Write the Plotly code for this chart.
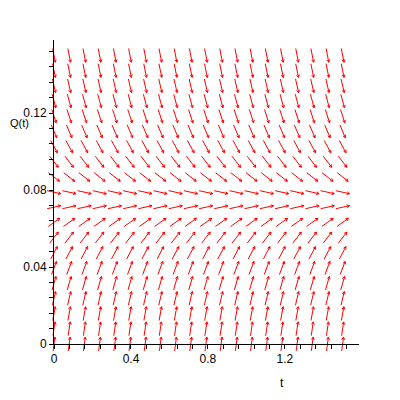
import math
import plotly.graph_objects as go

# ---- data (direction field of an autonomous ODE) ----
t_grid = [0.0, 0.0789, 0.1579, 0.2368, 0.3158, 0.3947, 0.4737, 0.5526, 0.6316, 0.7105,
          0.7895, 0.8684, 0.9474, 1.0263, 1.1053, 1.1842, 1.2632, 1.3421, 1.4211, 1.5]
q_grid = [0.0, 0.0079, 0.0158, 0.0237, 0.0316, 0.0395, 0.0474, 0.0553, 0.0632, 0.0711,
          0.0789, 0.0868, 0.0947, 0.1026, 0.1105, 0.1184, 0.1263, 0.1342, 0.1421, 0.15]
# dQ/dt at each row of the field (same for every column)
dq_dt = [0.76, 0.68, 0.56, 0.43, 0.35, 0.27, 0.19, 0.13, 0.071, 0.022,
         -0.022, -0.078, -0.13, -0.185, -0.235, -0.31, -0.375, -0.44, -0.49, -0.52]

x_tickvals = [0.0, 0.08, 0.16, 0.24, 0.32, 0.4, 0.48, 0.56, 0.64, 0.72, 0.8, 0.88, 0.96,
              1.04, 1.12, 1.2, 1.28, 1.36, 1.44, 1.52]
x_ticktext = ["0", "", "", "", "", "0.4", "", "", "", "", "0.8", "", "", "", "", "1.2",
              "", "", "", ""]
y_tickvals = [0.0, 0.008, 0.016, 0.024, 0.032, 0.04, 0.048, 0.056, 0.064, 0.072, 0.08,
              0.088, 0.096, 0.104, 0.112, 0.12, 0.128, 0.136, 0.144, 0.152]
y_ticktext = ["0", "", "", "", "", "0.04", "", "", "", "", "0.08", "", "", "", "",
              "0.12", "", "", "", ""]

X_MAX = 1.585
Y_MAX = 0.158

# ---- layout geometry (pixels, page offset of 8px body margin) ----
OFF = 8
W, H = 384, 384
ML, MR, MT, MB = 22, 12, 22, 32
PX0, PX1 = 54 - OFF, 359 - OFF      # visible axes box
PY0, PY1 = 344 - OFF, 40 - OFF
paper_w = W - ML - MR
paper_h = H - MT - MB
sx = (PX1 - PX0) / X_MAX
sy = (PY0 - PY1) / Y_MAX

xr = [(ML - PX0) / sx, (W - MR - PX0) / sx]
yr = [-(H - MB - PY0) / sy, (PY0 - MT) / sy]

L = 14.0   # arrow length in px
HL = 3.0   # head length px
HA = math.radians(28)

sx_list, sy_list = [], []
hx_list, hy_list = [], []
for q, s in zip(q_grid, dq_dt):
    ang = math.atan2(s * sy, sx)
    ux, uy = math.cos(ang), math.sin(ang)
    for t in t_grid:
        x0 = t - (L / 2) * ux / sx
        y0 = q - (L / 2) * uy / sy
        x1 = t + (L / 2) * ux / sx
        y1 = q + (L / 2) * uy / sy
        sx_list += [x0, x1, None]
        sy_list += [y0, y1, None]
        for sgn in (1, -1):
            a = ang + math.pi + sgn * HA
            bx = x1 + HL * math.cos(a) / sx
            by = y1 + HL * math.sin(a) / sy
            hx_list += [x1, bx, None]
            hy_list += [y1, by, None]

fig = go.Figure()
fig.add_trace(go.Scatter(x=sx_list, y=sy_list, mode="lines",
                         line=dict(color="#ff0000", width=1), hoverinfo="skip",
                         showlegend=False))
fig.add_trace(go.Scatter(x=hx_list, y=hy_list, mode="lines",
                         line=dict(color="#ff0000", width=1), hoverinfo="skip",
                         showlegend=False))
fig.add_trace(go.Scatter(x=[None], y=[None], xaxis="x2", yaxis="y2",
                         showlegend=False, hoverinfo="skip"))

font = dict(family="Liberation Sans, Arial, sans-serif", size=12, color="black")
label_font = dict(family="Liberation Sans, Arial, sans-serif", size=11, color="black")

fig.update_layout(
    width=W, height=H,
    margin=dict(l=ML, r=MR, t=MT, b=MB, pad=0),
    paper_bgcolor="white", plot_bgcolor="rgba(0,0,0,0)",
    showlegend=False,
    font=font,
    xaxis=dict(domain=[0, 1], range=xr, visible=False, fixedrange=True),
    yaxis=dict(domain=[0, 1], range=yr, visible=False, fixedrange=True),
    xaxis2=dict(domain=[(PX0 - ML) / paper_w, (PX1 - ML) / paper_w], range=[0, X_MAX],
                anchor="y2", showline=True, linecolor="black", linewidth=1,
                showgrid=False, zeroline=False, ticks="outside", ticklen=4, tickcolor="black",
                tickvals=x_tickvals, ticktext=x_ticktext, tickfont=font, fixedrange=True),
    yaxis2=dict(domain=[(H - MB - PY0) / paper_h, (H - MB - PY1) / paper_h], range=[0, Y_MAX],
                anchor="x2", showline=True, linecolor="black", linewidth=1,
                showgrid=False, zeroline=False, ticks="outside", ticklen=4, tickcolor="black",
                tickvals=y_tickvals, ticktext=y_ticktext, tickfont=font, fixedrange=True),
    annotations=[
        dict(text="Q(t)", xref="paper", yref="paper", x=(0 - ML) / paper_w,
             y=(H - MB - (123 - OFF)) / paper_h, xanchor="left", yanchor="middle",
             showarrow=False, font=label_font),
        dict(text="t", xref="paper", yref="paper", x=(282 - OFF - ML) / paper_w,
             y=(H - MB - (383 - OFF)) / paper_h, xanchor="center", yanchor="middle",
             showarrow=False, font=font),
    ],
)

fig.write_html("out.html")
